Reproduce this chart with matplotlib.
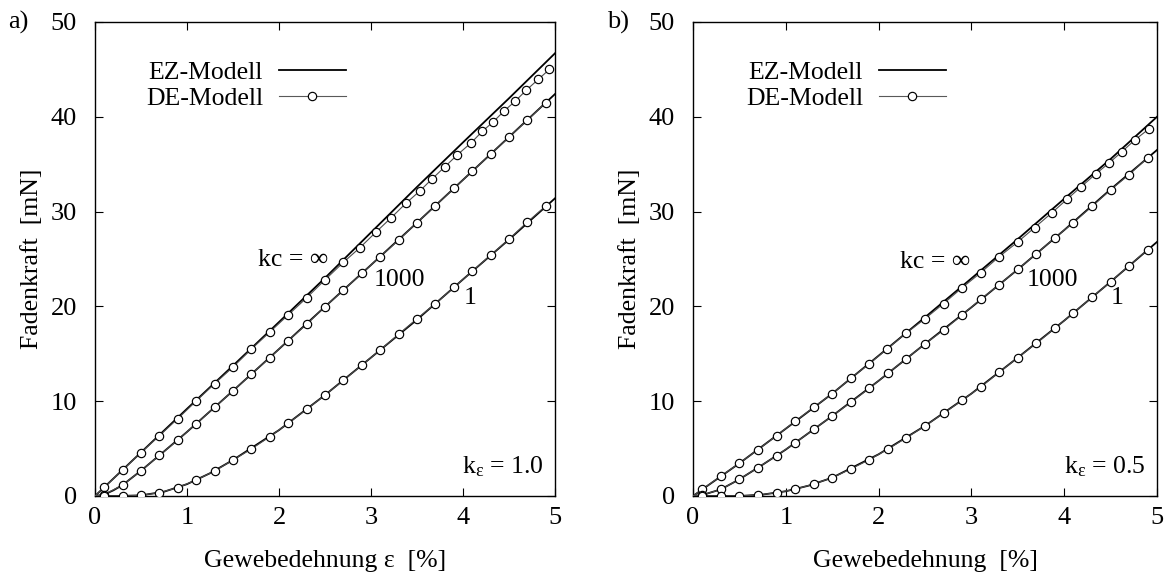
import matplotlib
matplotlib.use("Agg")
import matplotlib.pyplot as plt
from matplotlib.lines import Line2D

plt.rcParams['font.family'] = ['Liberation Serif', 'DejaVu Serif']
plt.rcParams['mathtext.fontset'] = 'custom'
plt.rcParams['mathtext.rm'] = 'Liberation Serif'
plt.rcParams['mathtext.it'] = 'Liberation Serif:italic'

# ---------------- data: panel a (k_eps = 1.0) ----------------
a_inf_de_x = [0.0, 0.1, 0.3, 0.5, 0.7, 0.9, 1.1, 1.3, 1.5, 1.7, 1.9, 2.1, 2.3, 2.5, 2.7, 2.88,
              3.05, 3.22, 3.38, 3.53, 3.66, 3.80, 3.94, 4.09, 4.21, 4.33, 4.45, 4.57, 4.69,
              4.82, 4.94]
a_inf_de_y = [0.0, 0.92, 2.74, 4.57, 6.36, 8.16, 10.02, 11.85, 13.6, 15.5, 17.3, 19.1, 20.9,
              22.8, 24.65, 26.2, 27.8, 29.36, 30.88, 32.17, 33.41, 34.70, 36.0, 37.27, 38.47,
              39.48, 40.64, 41.67, 42.83, 43.96, 45.01]
a_inf_ez_x = [0, 0.5, 1, 1.5, 2, 2.5, 3, 3.5, 4, 4.5, 5]
a_inf_ez_y = [0, 4.6, 9.2, 13.75, 18.35, 23.0, 27.8, 32.6, 37.3, 41.95, 46.7]

de_x = [0.0, 0.1, 0.3, 0.5, 0.7, 0.9, 1.1, 1.3, 1.5, 1.7, 1.9, 2.1, 2.3, 2.5, 2.7, 2.9, 3.1,
        3.3, 3.5, 3.7, 3.9, 4.1, 4.3, 4.5, 4.7, 4.9]
a_1000_de_y = [0.0, 0.15, 1.16, 2.67, 4.29, 5.9, 7.63, 9.35, 11.1, 12.87, 14.6, 16.4, 18.1,
               19.97, 21.7, 23.5, 25.24, 27.0, 28.83, 30.62, 32.46, 34.25, 36.04, 37.87,
               39.66, 41.49]
a_1000_ez_x = [0, 0.1, 0.2, 0.3, 0.5, 0.75, 1, 1.5, 2, 2.5, 3, 3.5, 4, 4.5, 5]
a_1000_ez_y = [0, 0.15, 0.6, 1.16, 2.67, 4.7, 6.76, 11.1, 15.5, 19.97, 24.37, 28.83, 33.35,
               37.87, 42.4]
a_1_de_y = [0.0, 0.0, 0.0, 0.07, 0.35, 0.88, 1.69, 2.64, 3.8, 4.96, 6.26, 7.67, 9.14, 10.65,
            12.2, 13.8, 15.4, 17.06, 18.7, 20.3, 22.0, 23.7, 25.4, 27.1, 28.9, 30.6]
a_1_ez_x = [0, 0.25, 0.5, 0.75, 1, 1.25, 1.5, 2, 2.5, 3, 3.5, 4, 4.5, 5]
a_1_ez_y = [0, 0, 0.07, 0.45, 1.25, 2.4, 3.8, 6.95, 10.65, 14.6, 18.6, 22.85, 27.05, 31.4]

# ---------------- data: panel b (k_eps = 0.5) ----------------
b_inf_de_x = [0.0, 0.1, 0.3, 0.5, 0.7, 0.9, 1.1, 1.3, 1.5, 1.7, 1.9, 2.09, 2.3, 2.5, 2.7, 2.9,
              3.1, 3.3, 3.5, 3.68, 3.87, 4.03, 4.18, 4.34, 4.48, 4.62, 4.76, 4.91]
b_inf_de_y = [0.0, 0.7, 2.1, 3.45, 4.9, 6.36, 7.88, 9.35, 10.8, 12.4, 13.96, 15.5, 17.2, 18.7,
              20.3, 21.97, 23.55, 25.25, 26.8, 28.3, 29.9, 31.3, 32.6, 33.97, 35.1, 36.3,
              37.55, 38.7]
b_inf_ez_x = [0, 0.5, 1, 1.5, 2, 2.5, 3, 3.5, 4, 4.5, 5]
b_inf_ez_y = [0, 3.45, 7.1, 10.8, 14.8, 18.85, 22.95, 27.1, 31.35, 35.55, 40.0]

b_1000_de_y = [0.0, 0.1, 0.7, 1.76, 3.0, 4.25, 5.6, 7.03, 8.44, 9.88, 11.36, 12.95, 14.5,
               16.05, 17.5, 19.1, 20.75, 22.3, 23.9, 25.55, 27.25, 28.85, 30.55, 32.3, 33.9,
               35.7]
b_1000_ez_x = [0, 0.1, 0.3, 0.5, 0.75, 1, 1.5, 2, 2.5, 3, 3.5, 4, 4.5, 5]
b_1000_ez_y = [0, 0.1, 0.7, 1.76, 3.3, 4.9, 8.44, 12.15, 16.05, 19.9, 23.9, 28.05, 32.35, 36.5]
b_1_de_y = [0.0, 0.0, 0.0, 0.0, 0.1, 0.35, 0.7, 1.27, 1.93, 2.85, 3.83, 4.95, 6.15, 7.4, 8.72,
            10.1, 11.5, 13.05, 14.6, 16.1, 17.7, 19.3, 20.96, 22.6, 24.3, 26.0]
b_1_ez_x = [0, 0.5, 0.75, 1, 1.25, 1.5, 2, 2.5, 3, 3.5, 4, 4.5, 5]
b_1_ez_y = [0, 0, 0.15, 0.5, 1.1, 1.93, 4.4, 7.4, 10.8, 14.6, 18.5, 22.6, 26.8]

x_ticks = [0, 1, 2, 3, 4, 5]
y_ticks = [0, 10, 20, 30, 40, 50]

FS = 18.5
TFS = 19

fig = plt.figure(figsize=(11.68, 5.76), dpi=100)
ax_a = fig.add_axes([95 / 1168, 80 / 576, 460 / 1168, 474 / 576])
ax_b = fig.add_axes([693 / 1168, 80 / 576, 464 / 1168, 474 / 576])

ez_kw = dict(color='black', lw=1.3, zorder=2)
de_kw = dict(color='0.3', lw=0.8, marker='o', markersize=6, markerfacecolor='white',
             markeredgecolor='black', markeredgewidth=0.85, markevery=slice(1, None), zorder=3)


def draw(ax, series, xlabel, klabel, labels):
    for ezx, ezy, dex, dey in series:
        ax.plot(ezx, ezy, **ez_kw)
        ax.plot(dex, dey, **de_kw)
    ax.set_xlim(0, 5)
    ax.set_ylim(0, 50)
    ax.set_xticks(x_ticks)
    ax.set_yticks(y_ticks)
    ax.tick_params(direction='in', top=True, right=True, length=6, width=0.8,
                   labelsize=TFS, pad=8)
    ax.tick_params(axis='y', pad=13)
    for s in ax.spines.values():
        s.set_linewidth(1.0)
    ax.set_xlabel(xlabel, fontsize=FS)
    ax.set_ylabel('Fadenkraft  [mN]', fontsize=FS)
    ax.xaxis.set_label_coords(0.5, -0.113)
    ax.yaxis.set_label_coords(-0.112, 0.5)
    for (tx, ty, txt, ha) in labels:
        ax.text(tx, ty, txt, fontsize=FS, ha=ha, va='center')
    ax.text(0.975, 0.048, klabel, fontsize=FS, ha='right', va='baseline',
            transform=ax.transAxes)
    handles = [Line2D([], [], **{k: v for k, v in ez_kw.items() if k != 'zorder'}),
               Line2D([], [], color='0.35', lw=0.8, marker='o', markersize=6,
                      markerfacecolor='white', markeredgecolor='black',
                      markeredgewidth=0.85)]
    ax.legend(handles, ['EZ-Modell', 'DE-Modell'], loc='upper right',
              bbox_to_anchor=(0.545, 0.917), frameon=False, markerfirst=False,
              fontsize=FS, handlelength=2.6, handletextpad=0.62, labelspacing=0.1,
              borderpad=0, borderaxespad=0, numpoints=1)


draw(ax_a,
     [(a_inf_ez_x, a_inf_ez_y, a_inf_de_x, a_inf_de_y),
      (a_1000_ez_x, a_1000_ez_y, de_x, a_1000_de_y),
      (a_1_ez_x, a_1_ez_y, de_x, a_1_de_y)],
     'Gewebedehnung ε  [%]', r'k$_{\mathrm{ε}}$ = 1.0',
     [(2.54, 24.9, 'kc = ∞', 'right'), (3.03, 22.8, '1000', 'left'),
      (4.08, 20.9, '1', 'center')])
draw(ax_b,
     [(b_inf_ez_x, b_inf_ez_y, b_inf_de_x, b_inf_de_y),
      (b_1000_ez_x, b_1000_ez_y, de_x, b_1000_de_y),
      (b_1_ez_x, b_1_ez_y, de_x, b_1_de_y)],
     'Gewebedehnung  [%]', r'k$_{\mathrm{ε}}$ = 0.5',
     [(2.99, 24.7, 'kc = ∞', 'right'), (3.60, 22.8, '1000', 'left'),
      (4.57, 20.85, '1', 'center')])

fig.text(8 / 1168, 1 - 22 / 576, 'a)', fontsize=TFS, ha='left', va='center')
fig.text(607 / 1168, 1 - 22 / 576, 'b)', fontsize=TFS, ha='left', va='center')

fig.savefig('out.png', dpi=100)
